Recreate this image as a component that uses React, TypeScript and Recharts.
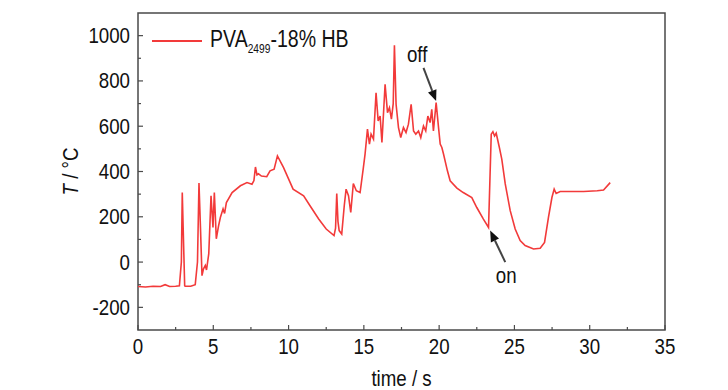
import React from 'react';
import {
  LineChart,
  Line,
  XAxis,
  YAxis,
  ReferenceArea,
  ReferenceLine,
  ReferenceDot,
  Legend,
} from 'recharts';

// ---- data ----
const times = [
  0.0, 0.5, 1.0, 1.5, 1.8, 2.1, 2.5, 2.75, 2.88, 2.94, 3.0, 3.1, 3.14, 3.5, 3.8, 3.95, 4.05, 4.15, 4.25,
  4.35, 4.47, 4.55, 4.7, 4.85, 4.98, 5.07, 5.2, 5.35, 5.47, 5.65, 5.75, 5.87, 6.25, 6.8, 7.24, 7.57, 7.7,
  7.8, 7.9, 8.0, 8.2, 8.55, 8.77, 9.04, 9.26, 9.66, 10.3, 11.0, 11.5, 12.0, 12.5, 13.02, 13.12, 13.2,
  13.28, 13.36, 13.53, 13.7, 13.82, 13.98, 14.13, 14.3, 14.5, 14.75, 14.97, 15.08, 15.24, 15.37, 15.48,
  15.64, 15.81, 15.95, 16.08, 16.2, 16.41, 16.57, 16.7, 16.83, 16.95, 17.03, 17.14, 17.3, 17.45, 17.63,
  17.8, 17.96, 18.14, 18.3, 18.45, 18.63, 18.78, 18.96, 19.11, 19.25, 19.4, 19.51, 19.62, 19.8, 19.96,
  20.07, 20.18, 20.29, 20.55, 20.73, 21.18, 21.6, 22.17, 22.5, 22.94, 23.28, 23.46, 23.57, 23.68, 23.79, 24.0,
  24.16, 24.39, 24.72, 25.05, 25.38, 25.71, 26.27, 26.71, 27.0, 27.26, 27.49, 27.64, 27.77, 28.04, 28.7,
  29.6, 30.5, 30.92, 31.36,
];
const temps = [
  -108, -110, -107, -108, -100, -108, -107, -105, 0, 307, 150, -105, -107, -107, -100, 0, 349, 150, -60,
  -30, -15, -35, 37, 293, 153, 307, 103, 160, 197, 235, 215, 263, 307, 337, 351, 344, 360,
  420, 385, 390, 380, 377, 403, 410, 469, 418, 322, 293, 241, 190, 146, 117, 150, 303,
  180, 139, 124, 250, 322, 293, 219, 347, 315, 307, 418, 477, 587, 521, 565,
  543, 748, 623, 645, 528, 785, 660, 682, 631, 700, 958, 697, 594, 550, 594,
  572, 609, 697, 579, 565, 579, 550, 601, 579, 645, 616, 675, 579, 704, 594,
  521, 506, 477, 403, 359, 327, 307, 285, 241, 190, 153, 565, 576, 557, 569, 506,
  455, 345, 227, 146, 95, 73, 58, 61, 87, 197, 285, 322, 303, 312, 312,
  312, 315, 318, 351,
];
const seriesName = 'PVA2499-18% HB';
const xTicks = [0, 2.5, 5, 7.5, 10, 12.5, 15, 17.5, 20, 22.5, 25, 27.5, 30, 32.5, 35];
const xMajor = [0, 5, 10, 15, 20, 25, 30, 35];
const yTicks = [-200, -100, 0, 100, 200, 300, 400, 500, 600, 700, 800, 900, 1000];
const yMajor = [-200, 0, 200, 400, 600, 800, 1000];
const xDomain = [0, 35];
const yDomain = [-300, 1100];

// annotations (data coordinates)
const offText = { t: 18.54, T: 918, label: 'off' };
const offArrow = [{ x: 18.96, y: 858 }, { x: 19.8, y: 711 }];
const onText = { t: 24.45, T: -59, label: 'on' };
const onArrow = [{ x: 24.39, y: 0 }, { x: 23.39, y: 139 }];

const data = times.map((t, i) => ({ t, T: temps[i] }));

const FONT = '"Liberation Sans", Arial, sans-serif';
const FRAME = '#4a4a4a';
const RED = '#f23a3a';
const M = 8;
const SX = 0.85;

const NarrowText = ({ x, y, anchor, children, size = 22 }: any) => (
  <text
    transform={`translate(${x} ${y}) scale(${SX} 1)`}
    x={0}
    y={0}
    textAnchor={anchor}
    dominantBaseline="central"
    fontFamily={FONT}
    fontSize={size}
    fill="#111"
  >
    {children}
  </text>
);

const YTick = (props: any) => {
  const { x, y, payload } = props;
  const v = payload.value;
  const major = yMajor.includes(v);
  const ax = x + M;
  return (
    <g>
      <line x1={ax} y1={y} x2={ax + (major ? 5 : 3)} y2={y} stroke={FRAME} strokeWidth={1.2} />
      {major && (
        <NarrowText x={x} y={y} anchor="end">
          {v}
        </NarrowText>
      )}
    </g>
  );
};

const XTick = (props: any) => {
  const { x, y, payload } = props;
  const v = payload.value;
  const major = xMajor.includes(v);
  const ay = y - M;
  return (
    <g>
      <line x1={x} y1={ay} x2={x} y2={ay - (major ? 5 : 3)} stroke={FRAME} strokeWidth={1.2} />
      {major && (
        <NarrowText x={x} y={ay + 16} anchor="middle">
          {v}
        </NarrowText>
      )}
    </g>
  );
};

const Arrow = (props: any) => {
  const { x1, y1, x2, y2 } = props;
  const dx = x2 - x1;
  const dy = y2 - y1;
  const len = Math.sqrt(dx * dx + dy * dy) || 1;
  const ux = dx / len;
  const uy = dy / len;
  const hl = 11;
  const hw = 4.5;
  const bx = x2 - ux * hl;
  const by = y2 - uy * hl;
  const pts = `${x2},${y2} ${bx - uy * hw},${by + ux * hw} ${bx + uy * hw},${by - ux * hw}`;
  return (
    <g>
      <line x1={x1} y1={y1} x2={bx} y2={by} stroke="#444" strokeWidth={2} />
      <polygon points={pts} fill="#111" />
    </g>
  );
};

const AnnText = (label: string) => (props: any) => {
  const { cx, cy } = props;
  return (
    <NarrowText x={cx} y={cy} anchor="middle">
      {label}
    </NarrowText>
  );
};

const renderLegend = () => (
  <div style={{ display: 'flex', alignItems: 'center', fontFamily: FONT, fontSize: 23, color: '#111', whiteSpace: 'nowrap' }}>
    <svg width={50} height={4} style={{ marginRight: 8 }}>
      <line x1={0} y1={2} x2={50} y2={2} stroke={RED} strokeWidth={1.8} />
    </svg>
    <span style={{ display: 'inline-block', transform: `scaleX(${SX})`, transformOrigin: 'left center' }}>
      {seriesName.slice(0, 3)}
      <sub style={{ fontSize: 12 }}>{seriesName.slice(3, 7)}</sub>
      {seriesName.slice(7)}
    </span>
  </div>
);

export default function App() {
  return (
    <div style={{ position: 'absolute', left: 0, top: 0, background: '#fff' }}>
      <LineChart width={728} height={390} data={data} margin={{ top: 13, right: 63, bottom: 0, left: 78 }}>
        <XAxis
          dataKey="t"
          type="number"
          domain={xDomain}
          ticks={xTicks}
          interval={0}
          allowDataOverflow
          height={60}
          tickSize={0}
          tickMargin={M}
          axisLine={false}
          tickLine={false}
          tick={<XTick />}
          label={{
            content: (p: any) => {
              const vb = p.viewBox;
              return (
                <NarrowText x={vb.x + vb.width / 2} y={vb.y + 48} anchor="middle">
                  time / s
                </NarrowText>
              );
            },
          }}
        />
        <YAxis
          type="number"
          domain={yDomain}
          ticks={yTicks}
          interval={0}
          allowDataOverflow
          width={60}
          tickSize={0}
          tickMargin={M}
          axisLine={false}
          tickLine={false}
          tick={<YTick />}
          label={{
            content: (p: any) => {
              const vb = p.viewBox;
              const cx = vb.x - 8;
              const cy = vb.y + vb.height / 2;
              return (
                <text
                  transform={`translate(${cx} ${cy}) rotate(-90) scale(${SX} 1)`}
                  x={0}
                  y={0}
                  textAnchor="middle"
                  dominantBaseline="central"
                  fontFamily={FONT}
                  fontSize={22}
                  fill="#111"
                >
                  <tspan fontStyle="italic">T</tspan>
                  <tspan> / °C</tspan>
                </text>
              );
            },
          }}
        />
        <ReferenceArea x1={xDomain[0]} x2={xDomain[1]} y1={yDomain[0]} y2={yDomain[1]} fill="none" fillOpacity={0} stroke={FRAME} strokeWidth={1.5} />
        <Legend
          layout="horizontal"
          verticalAlign="middle"
          align="center"
          content={renderLegend}
          wrapperStyle={{ position: 'absolute', left: 152, top: 26, width: 'auto', height: 'auto' }}
        />
        <Line
          name={seriesName}
          type="linear"
          dataKey="T"
          stroke={RED}
          strokeWidth={1.6}
          dot={false}
          isAnimationActive={false}
        />
        <ReferenceLine segment={offArrow} shape={<Arrow />} />
        <ReferenceLine segment={onArrow} shape={<Arrow />} />
        <ReferenceDot x={offText.t} y={offText.T} r={0} shape={AnnText(offText.label)} />
        <ReferenceDot x={onText.t} y={onText.T} r={0} shape={AnnText(onText.label)} />
      </LineChart>
    </div>
  );
}
